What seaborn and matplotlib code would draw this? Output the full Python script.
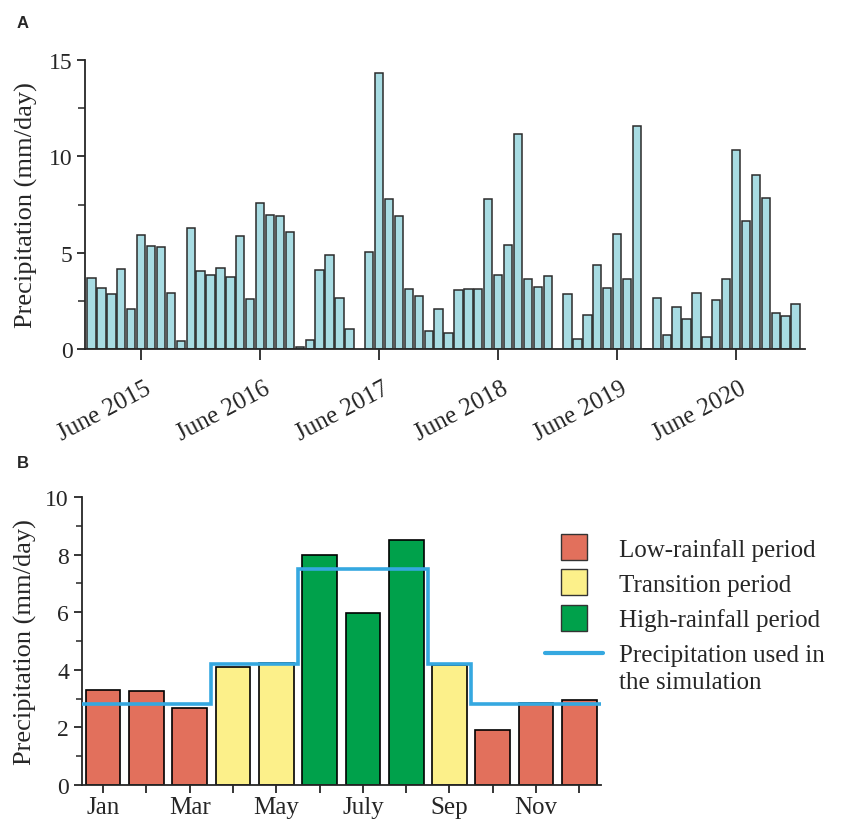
import numpy as np
import pandas as pd
import matplotlib
matplotlib.use("Agg")
import matplotlib.pyplot as plt
import matplotlib.transforms as mtransforms
from matplotlib.lines import Line2D
from matplotlib.ticker import MultipleLocator
import seaborn as sns

# ---------------- data ----------------
# Panel A: monthly precipitation Jan 2015 - Dec 2020 (NaN = no data)
precip_2015 = [3.69, 3.15, 2.85, 4.17, 2.08, 5.92, 5.36, 5.31, 2.89, 0.42, 6.28, 4.03]
precip_2016 = [3.86, 4.19, 3.74, 5.88, 2.61, 7.60, 6.96, 6.89, 6.07, 0.12, 0.47, 4.10]
precip_2017 = [4.86, 2.66, 1.06, np.nan, 5.03, 14.31, 7.77, 6.92, 3.11, 2.75, 0.95, 2.08]
precip_2018 = [0.85, 3.06, 3.13, 3.13, 7.79, 3.84, 5.42, 11.18, 3.65, 3.24, 3.81, np.nan]
precip_2019 = [2.84, 0.50, 1.75, 4.34, 3.18, 5.97, 3.62, 11.56, 0.0, 2.63, 0.71, 2.20]
precip_2020 = [1.56, 2.89, 0.64, 2.56, 3.62, 10.33, 6.64, 9.01, 7.85, 1.89, 1.73, 2.32]
years_a = [2015, 2016, 2017, 2018, 2019, 2020]
year_ticks = ["June 2015", "June 2016", "June 2017", "June 2018", "June 2019", "June 2020"]

# Panel B: mean monthly precipitation
months_b = ["Jan", "Feb", "Mar", "Apr", "May", "Jun", "Jul", "Aug", "Sep", "Oct", "Nov", "Dec"]
month_labels_b = ["Jan", "", "Mar", "", "May", "", "July", "", "Sep", "", "Nov", ""]
precip_b = [3.30, 3.25, 2.66, 4.11, 4.22, 8.00, 5.96, 8.50, 4.18, 1.90, 2.86, 2.94]
period_b = ["Low-rainfall period"] * 3 + ["Transition period"] * 2 + ["High-rainfall period"] * 3 + \
           ["Transition period"] + ["Low-rainfall period"] * 3
sim_precip_b = [2.82, 2.82, 2.82, 4.20, 4.20, 7.50, 7.50, 7.50, 4.20, 2.82, 2.82, 2.82]
legend_labels = ["Low-rainfall period", "Transition period", "High-rainfall period",
                 "Precipitation used in"]
legend_label_cont = "the simulation"

# ---------------- style ----------------
sns.set_theme(style="ticks")
plt.rcParams["font.family"] = ["Liberation Serif", "DejaVu Serif"]
plt.rcParams["axes.linewidth"] = 1.3
plt.rcParams["xtick.major.width"] = 1.3
plt.rcParams["ytick.major.width"] = 1.3
plt.rcParams["ytick.minor.width"] = 1.1
plt.rcParams["xtick.direction"] = "out"
plt.rcParams["ytick.direction"] = "out"

BAR_A = "#A8DCE3"
EDGE = "#2b2b2b"
palette_b = {"Low-rainfall period": "#E2705C",
             "Transition period": "#FCF08A",
             "High-rainfall period": "#00A14B"}
LINE_B = "#35A8E0"

fig = plt.figure(figsize=(8.41, 8.20), dpi=100)
W, H = 841, 820

def axes_px(l, t, r, b):
    return fig.add_axes([l / W, 1 - b / H, (r - l) / W, (b - t) / H])

# ---------------- panel A ----------------
axA = axes_px(85, 61, 805, 350)
vals_a = precip_2015 + precip_2016 + precip_2017 + precip_2018 + precip_2019 + precip_2020
df_a = pd.DataFrame({"idx": np.arange(len(vals_a)), "val": vals_a})
sns.barplot(data=df_a, x="idx", y="val", order=list(range(len(vals_a))), color=BAR_A,
            saturation=1, edgecolor=EDGE, linewidth=1.1, width=0.84, ax=axA)
axA.set_xlim(-0.66, 71.95)
axA.set_ylim(0, 15)
axA.yaxis.set_major_locator(MultipleLocator(5))
axA.yaxis.set_minor_locator(MultipleLocator(2.5))
axA.tick_params(axis="y", which="major", length=6, labelsize=17, pad=3)
axA.tick_params(axis="y", which="minor", length=5)
tick_pos = [12 * i + 5 for i in range(len(years_a))]
axA.set_xticks(tick_pos)
axA.set_xticklabels(year_ticks, rotation=28, ha="right", fontsize=18)
axA.tick_params(axis="x", length=8, pad=12)
offset = mtransforms.ScaledTranslation(10 / 72, 0, fig.dpi_scale_trans)
for lab in axA.get_xticklabels():
    lab.set_transform(lab.get_transform() + offset)
axA.set_xlabel("")
axA.set_ylabel("Precipitation (mm/day)", fontsize=19, labelpad=8)
sns.despine(ax=axA)

# ---------------- panel B ----------------
axB = axes_px(81.5, 498, 601, 786)
df_b = pd.DataFrame({"month": months_b, "val": precip_b, "period": period_b})
sns.barplot(data=df_b, x="month", y="val", hue="period", palette=palette_b, dodge=False,
            saturation=1, edgecolor="black", linewidth=1.2, width=0.8, legend=False, ax=axB)
axB.stairs(sim_precip_b, np.arange(-0.5, len(months_b)), baseline=None,
           color=LINE_B, linewidth=2.6, zorder=5)
axB.set_xlim(-0.5, 11.5)
axB.set_ylim(0, 10)
axB.yaxis.set_major_locator(MultipleLocator(2))
axB.yaxis.set_minor_locator(MultipleLocator(1))
axB.tick_params(axis="y", which="major", length=6, labelsize=17, pad=3)
axB.tick_params(axis="y", which="minor", length=4)
axB.set_xticks(range(len(months_b)))
axB.set_xticklabels(month_labels_b, fontsize=18)
axB.tick_params(axis="x", length=6, pad=2)
axB.set_xlabel("")
axB.set_ylabel("Precipitation (mm/day)", fontsize=19, labelpad=6)
sns.despine(ax=axB)

handles = [Line2D([], [], marker="s", markersize=19, markerfacecolor=palette_b[k],
                  markeredgecolor="#333333", markeredgewidth=1.0, linestyle="none")
           for k in ["Low-rainfall period", "Transition period", "High-rainfall period"]]
handles.append(Line2D([], [], color=LINE_B, linewidth=3))
leg = fig.legend(handles, legend_labels, loc="upper left", bbox_to_anchor=(545 / W, 1 - 539 / H),
                 frameon=False, fontsize=18, handlelength=2.3, handletextpad=0.65,
                 labelspacing=0.5, borderpad=0, borderaxespad=0)

# continuation line of the last legend label
fig.canvas.draw()
last = leg.get_texts()[-1]
bb = last.get_window_extent()
fig.text(bb.x0 / W, (bb.y0 - 27) / H, legend_label_cont, fontsize=18,
         ha="left", va="bottom")

# panel letters
fig.text(17 / W, 1 - 28 / H, "A", fontsize=12, fontweight="bold", family="Liberation Sans")
fig.text(17 / W, 1 - 468 / H, "B", fontsize=12, fontweight="bold", family="Liberation Sans")

fig.savefig("out.png", dpi=100)
